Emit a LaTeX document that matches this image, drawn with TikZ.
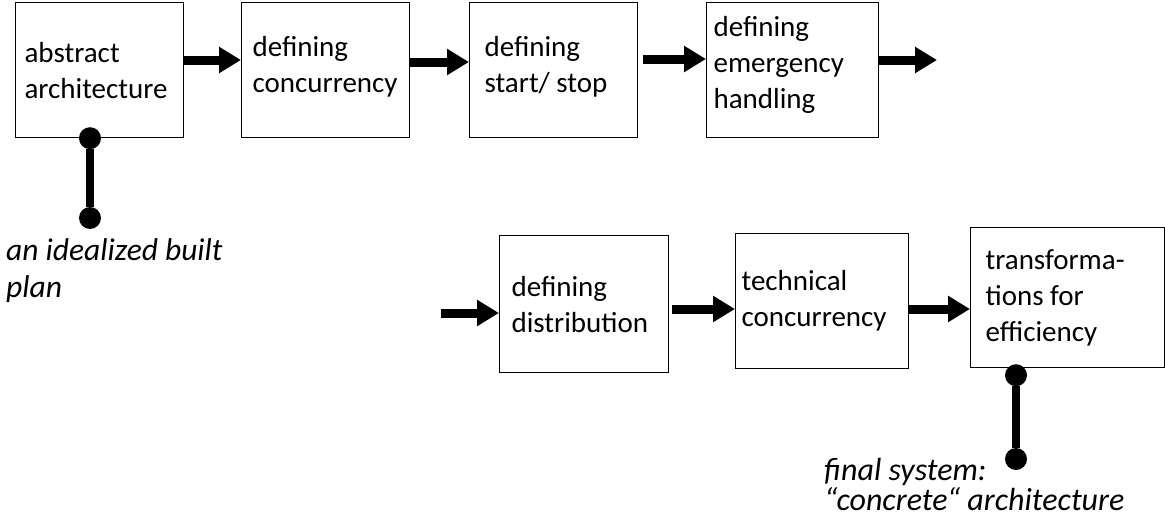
\documentclass[tikz,border=0pt]{standalone}
\usepackage{fontspec}
\setmainfont{Carlito}
\usetikzlibrary{arrows.meta,calc}
\begin{document}
\begin{tikzpicture}[x=1pt,y=-1pt,
  box/.style={draw, line width=1.2pt, anchor=north west, align=flush left, inner ysep=0pt,
    font=\fontsize{29}{36}\selectfont},
  flow/.style={line width=9pt, -{Triangle[length=22pt,width=25pt]}},
  dot/.style={circle, fill=black, minimum size=22pt, inner sep=0pt},
  pin/.style={line width=8pt},
  lbl/.style={align=left, inner sep=0pt, anchor=north west,
    font=\fontsize{31.5}{37}\selectfont\itshape}]
\useasboundingbox (0,0) rectangle (1165,522);
% top row
\node[box, minimum width=168pt, minimum height=135pt, text width=150pt, inner xsep=9pt] (b1) at (15,2)
  {abstract\\architecture};
\node[box, minimum width=168pt, minimum height=135pt, text width=146pt, inner xsep=11pt] (b2) at (241,2)
  {defining\\concurrency\rule[-11pt]{0pt}{11pt}};
\node[box, minimum width=168pt, minimum height=135pt, text width=138pt, inner xsep=15pt] (b3) at (469,2)
  {defining\\start/ stop\rule[-11pt]{0pt}{11pt}};
\node[box, minimum width=172pt, minimum height=135pt, text width=158pt, inner xsep=7pt] (b4) at (706,2)
  {defining\\emergency\\handling\rule[-15pt]{0pt}{15pt}};
% bottom row
\node[box, minimum width=169pt, minimum height=137pt, text width=145pt, inner xsep=12pt] (b5) at (499,235)
  {defining\\distribution};
\node[box, minimum width=173pt, minimum height=135pt, text width=161pt, inner xsep=6pt] (b6) at (735,233)
  {technical\\concurrency};
\node[box, minimum width=194pt, minimum height=140pt, text width=164pt, inner xsep=15pt] (b7) at (970,227)
  {transforma-\\tions for\\efficiency};
% free ends
\coordinate (e4) at (937,60);
\coordinate (s5) at (441,313);
% arrows
\draw[flow] (b1.east |- 0,60) -- (b2.west |- 0,60);
\draw[flow] (b2.east |- 0,62) -- (b3.west |- 0,62);
\draw[flow, shorten <=5pt] (b3.east |- 0,59) -- (b4.west |- 0,59);
\draw[flow] (b4.east |- 0,60) -- (e4);
\draw[flow] (s5) -- (b5.west |- 0,313);
\draw[flow, shorten <=3pt] (b5.east |- 0,309) -- (b6.west |- 0,309);
\draw[flow] (b6.east |- 0,309) -- (b7.west |- 0,309);
% pins
\node[dot] (p1a) at ($(b1.south west)+(75,0)$) {};
\node[dot] (p1b) at (90,218) {};
\draw[pin] (p1a) -- (p1b);
\node[dot] (p2a) at ($(b7.south west)+(46,7)$) {};
\node[dot] (p2b) at (1016,459) {};
\draw[pin] (p2a) -- (p2b);
% labels
\node[lbl] (l1) at (6,238) {an idealized built\\plan};
\node[lbl, font=\fontsize{32}{30}\selectfont\itshape] (l2) at (824,458) {final system:\\“concrete“ architecture};
\end{tikzpicture}
\end{document}
